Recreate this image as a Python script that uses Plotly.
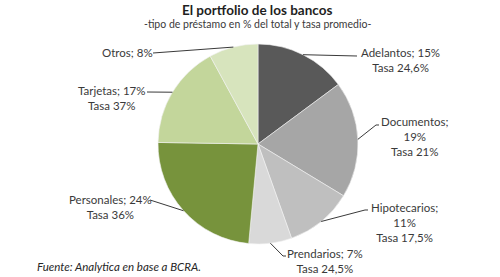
import numpy as np
import plotly.graph_objects as go

# ---- data ----
categories = ["Adelantos", "Documentos", "Hipotecarios", "Prendarios", "Personales", "Tarjetas", "Otros"]
shares = [15, 19, 11, 7, 24, 17, 8]
rates = ["24,6%", "21%", "17,5%", "24,5%", "36%", "37%", None]
colors = ["#595959", "#a6a6a6", "#bfbfbf", "#d9d9d9", "#77933c", "#c3d69b", "#d7e4bd"]

# ---- layout (pixels) ----
W, H = 500, 277
CX, CY, R = 258, 144, 100
label_text = [
    "Adelantos; 15%<br>Tasa 24,6%",
    "Documentos;<br>19%<br>Tasa 21%",
    "Hipotecarios;<br>11%<br>Tasa 17,5%",
    "Prendarios; 7%<br>Tasa 24,5%",
    "Personales; 24%<br>Tasa 36%",
    "Tarjetas; 17%<br>Tasa 37%",
    "Otros; 8%",
]
label_pos = [(400, 60), (415, 137), (404, 222), (325, 260.5), (110, 207), (112, 98.5), (127, 52)]
line_end = [[(357, 56)], [(376, 125), (379, 125)], [(365, 210), (368, 210)], [(283, 256), (286, 256)],
            [(150, 200)], [(147, 92)], [(153, 53)]]

def px(x):
    return x / W

def py(y):
    return 1 - y / H

FONT = "Lato"
TXT = "#3a3a3a"

fig = go.Figure(go.Pie(
    labels=categories, values=shares, sort=False, direction="clockwise", rotation=0,
    marker=dict(colors=colors, line=dict(color="#f2f2f2", width=0.6)),
    textinfo="none", hoverinfo="label+value", showlegend=False,
    domain=dict(x=[px(CX - R), px(CX + R)], y=[py(CY + R), py(CY - R)]),
))

total = sum(shares)
cum = np.cumsum([0] + shares)
shapes = []
annotations = []
for i, cat in enumerate(categories):
    mid = (cum[i] + shares[i] / 2) / total * 2 * np.pi
    ex, ey = CX + R * np.sin(mid), CY - R * np.cos(mid)
    pts = [(ex, ey)] + line_end[i]
    path = "M " + " L ".join(f"{px(a):.5f},{py(b):.5f}" for a, b in pts)
    shapes.append(dict(type="path", xref="paper", yref="paper", path=path,
                       line=dict(color=TXT, width=1)))
    lx, ly = label_pos[i]
    annotations.append(dict(x=px(lx), y=py(ly), xref="paper", yref="paper", text=label_text[i],
                            showarrow=False, xanchor="center", yanchor="middle", align="center",
                            font=dict(family=FONT, size=11.5, color=TXT)))

annotations.append(dict(x=px(257), y=py(10), xref="paper", yref="paper",
                        text="<b>El portfolio de los bancos</b>", showarrow=False,
                        xanchor="center", yanchor="middle",
                        font=dict(family=FONT, size=13.5, color="#1f1f1f")))
annotations.append(dict(x=px(257), y=py(24), xref="paper", yref="paper",
                        text="-tipo de préstamo en % del total y tasa promedio-", showarrow=False,
                        xanchor="center", yanchor="middle",
                        font=dict(family=FONT, size=10.5, color=TXT)))
annotations.append(dict(x=px(35), y=py(266), xref="paper", yref="paper",
                        text="<i>Fuente: Analytica en base a BCRA.</i>", showarrow=False,
                        xanchor="left", yanchor="middle",
                        font=dict(family=FONT, size=11.5, color="#262626")))

fig.update_layout(width=W, height=H, margin=dict(l=0, r=0, t=0, b=0),
                  paper_bgcolor="white", plot_bgcolor="white",
                  shapes=shapes, annotations=annotations)
fig.write_html("out.html")
